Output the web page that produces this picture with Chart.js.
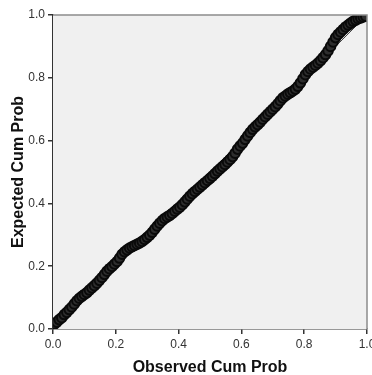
<!DOCTYPE html>
<html>
<head>
<meta charset="utf-8">
<script src="https://cdn.jsdelivr.net/npm/chart.js@4/dist/chart.umd.min.js"></script>
<style>
  html, body { margin: 0; padding: 0; background: #fff; }
  #wrap { width: 372px; height: 375px; position: relative; }
</style>
</head>
<body>
<div id="wrap"><canvas id="c"></canvas></div>
<script>
// ===== P-P plot: observed vs expected cumulative probability =====
const observedCum = [
    0.005, 0.012, 0.020, 0.028, 0.036, 0.044, 0.052, 0.060, 0.068, 0.076,
    0.084, 0.092, 0.100, 0.108, 0.116, 0.124, 0.132, 0.140, 0.148, 0.156,
    0.164, 0.172, 0.180, 0.188, 0.196, 0.204, 0.212, 0.220, 0.228, 0.236,
    0.244, 0.252, 0.260, 0.268, 0.276, 0.284, 0.292, 0.300, 0.308, 0.316,
    0.324, 0.332, 0.340, 0.348, 0.356, 0.364, 0.372, 0.380, 0.388, 0.396,
    0.404, 0.412, 0.420, 0.428, 0.436, 0.444, 0.452, 0.460, 0.468, 0.476,
    0.484, 0.492, 0.500, 0.508, 0.516, 0.524, 0.532, 0.540, 0.548, 0.556,
    0.564, 0.572, 0.580, 0.588, 0.596, 0.604, 0.612, 0.620, 0.628, 0.636,
    0.644, 0.652, 0.660, 0.668, 0.676, 0.684, 0.692, 0.700, 0.708, 0.716,
    0.724, 0.732, 0.740, 0.748, 0.756, 0.764, 0.772, 0.780, 0.788, 0.796,
    0.804, 0.812, 0.820, 0.828, 0.836, 0.844, 0.852, 0.860, 0.868, 0.876,
    0.884, 0.892, 0.900, 0.908, 0.916, 0.924, 0.932, 0.940, 0.948, 0.956,
    0.964, 0.972, 0.980, 0.988, 0.996
];
const expectedCum = [
    0.016, 0.022, 0.030, 0.036, 0.046, 0.053, 0.062, 0.070, 0.080, 0.090,
    0.098, 0.104, 0.110, 0.116, 0.124, 0.131, 0.138, 0.146, 0.155, 0.164,
    0.174, 0.184, 0.192, 0.199, 0.207, 0.215, 0.226, 0.238, 0.246, 0.252,
    0.258, 0.262, 0.266, 0.270, 0.274, 0.279, 0.285, 0.292, 0.299, 0.308,
    0.318, 0.328, 0.337, 0.345, 0.352, 0.357, 0.362, 0.368, 0.375, 0.382,
    0.388, 0.396, 0.405, 0.414, 0.423, 0.431, 0.438, 0.445, 0.452, 0.459,
    0.466, 0.473, 0.480, 0.487, 0.495, 0.503, 0.510, 0.517, 0.524, 0.532,
    0.540, 0.549, 0.560, 0.573, 0.583, 0.592, 0.604, 0.615, 0.626, 0.636,
    0.644, 0.651, 0.659, 0.668, 0.676, 0.684, 0.692, 0.700, 0.708, 0.717,
    0.727, 0.736, 0.742, 0.748, 0.753, 0.758, 0.764, 0.773, 0.784, 0.797,
    0.810, 0.820, 0.828, 0.834, 0.840, 0.847, 0.855, 0.864, 0.874, 0.886,
    0.900, 0.914, 0.928, 0.938, 0.946, 0.954, 0.962, 0.968, 0.974, 0.980,
    0.984, 0.988, 0.991, 0.994, 0.996
];
const refLine = [0, 1];
const tickValues = [0, 0.2, 0.4, 0.6, 0.8, 1.0];

const points = observedCum.map((x, i) => ({ x, y: expectedCum[i] }));
const diag = refLine.map(v => ({ x: v, y: v }));

// plot area fill + light top/right frame
const frame = {
    id: 'frame',
    beforeDatasetsDraw(chart) {
        const { ctx, chartArea: a } = chart;
        ctx.save();
        ctx.fillStyle = '#f0f0f0';
        ctx.fillRect(a.left, a.top, a.right - a.left, a.bottom - a.top);
        ctx.restore();
    },
    afterDraw(chart) {
        const { ctx, chartArea: a } = chart;
        ctx.save();
        ctx.strokeStyle = '#8c8c8c';
        ctx.lineWidth = 1.5;
        ctx.beginPath();
        ctx.moveTo(a.left, a.top);
        ctx.lineTo(a.right, a.top);
        ctx.lineTo(a.right, a.bottom);
        ctx.stroke();
        ctx.restore();
    }
};

const axisCommon = {
    type: 'linear', min: 0, max: 1,
    afterBuildTicks: s => { s.ticks = tickValues.map(v => ({ value: v })); },
    grid: { drawOnChartArea: false, drawTicks: true, tickLength: 5, color: '#333', lineWidth: 1.5 },
    border: { display: true, color: '#333', width: 1.5 },
    ticks: { color: '#333', padding: 3, font: { family: 'Liberation Sans, Arial', size: 12 }, callback: v => v.toFixed(1) }
};

new Chart(document.getElementById('c').getContext('2d'), {
    type: 'scatter',
    data: { datasets: [
        { data: points, pointRadius: 4.8, pointBorderWidth: 2, pointBorderColor: '#0a0a0a', pointBackgroundColor: '#2e2e2e', showLine: false },
        { type: 'line', data: diag, borderColor: '#444', borderWidth: 1, pointRadius: 0, fill: false }
    ]},
    options: {
        responsive: true, maintainAspectRatio: false, animation: false,
        layout: { autoPadding: false, padding: { top: 15, right: 5, bottom: 0, left: 0 } },
        scales: {
            x: { ...axisCommon, position: 'bottom',
                afterFit: s => { s.height = 46; s.paddingLeft = 0; s.paddingRight = 0; },
                title: { display: true, text: 'Observed Cum Prob', color: '#111', padding: { top: 0, bottom: -2 }, font: { family: 'Liberation Sans, Arial', size: 16, weight: 'bold' } } },
            y: { ...axisCommon, position: 'left',
                afterFit: s => { s.width = 53; s.paddingTop = 0; s.paddingBottom = 0; },
                title: { display: true, text: 'Expected Cum Prob', color: '#111', padding: { top: 9, bottom: 0 }, font: { family: 'Liberation Sans, Arial', size: 16, weight: 'bold' } } }
        },
        plugins: { legend: { display: false }, tooltip: { enabled: false } }
    },
    plugins: [frame]
});
</script>
</body>
</html>
